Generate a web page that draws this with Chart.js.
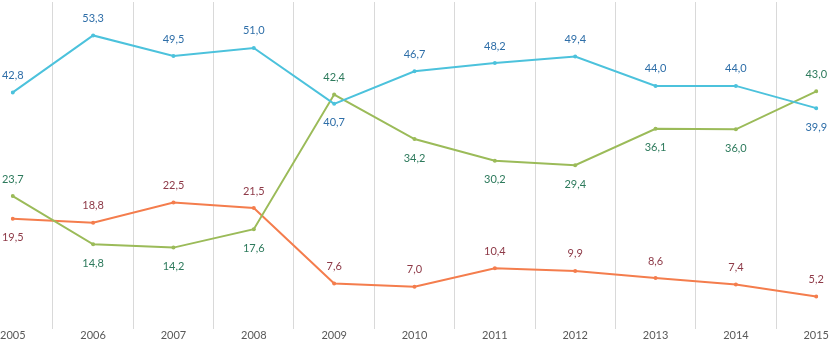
<!DOCTYPE html>
<html>
<head>
<meta charset="utf-8">
<script src="https://cdn.jsdelivr.net/npm/chart.js@4"></script>
<style>
  html, body { margin: 0; padding: 0; background: #fff; }
  #wrap { width: 829px; height: 342px; }
</style>
</head>
<body>
<div id="wrap"><canvas id="lines"></canvas></div>
<script>
// data
const years = ['2005', '2006', '2007', '2008', '2009', '2010', '2011', '2012', '2013', '2014', '2015'];
const blueValues = [42.8, 53.3, 49.5, 51.0, 40.7, 46.7, 48.2, 49.4, 44.0, 44.0, 39.9];
const greenValues = [23.7, 14.8, 14.2, 17.6, 42.4, 34.2, 30.2, 29.4, 36.1, 36.0, 43.0];
const orangeValues = [19.5, 18.8, 22.5, 21.5, 7.6, 7.0, 10.4, 9.9, 8.6, 7.4, 5.2];

// where each value label sits: 'a' above the point, 'b' below
const bluePos = ['a', 'a', 'a', 'a', 'b', 'a', 'a', 'a', 'a', 'a', 'b'];
const greenPos = ['a', 'b', 'b', 'b', 'a', 'b', 'b', 'b', 'b', 'b', 'a'];
const orangePos = ['b', 'a', 'a', 'a', 'a', 'a', 'a', 'a', 'a', 'a', 'a'];

const valueLabels = {
  id: 'valueLabels',
  afterDatasetsDraw(chart) {
    const ctx = chart.ctx;
    ctx.save();
    ctx.font = '11px Lato, sans-serif';
    ctx.textAlign = 'center';
    ctx.textBaseline = 'middle';
    chart.data.datasets.forEach((ds, i) => {
      const meta = chart.getDatasetMeta(i);
      ctx.fillStyle = ds.labelColor;
      meta.data.forEach((pt, j) => {
        const txt = ds.data[j].toFixed(1).replace('.', ',');
        const dy = ds.labelPos[j] === 'a' ? -17 : 19;
        ctx.fillText(txt, pt.x, pt.y + dy);
      });
    });
    ctx.restore();
  }
};

const ctx = document.getElementById('lines').getContext('2d');
new Chart(ctx, {
  type: 'line',
  data: {
    labels: years,
    datasets: [
      {
        data: blueValues,
        borderColor: '#4cc2dc',
        backgroundColor: '#4cc2dc',
        labelColor: '#2e6ea8',
        labelPos: bluePos
      },
      {
        data: greenValues,
        borderColor: '#9bbb59',
        backgroundColor: '#9bbb59',
        labelColor: '#2d7a5c',
        labelPos: greenPos
      },
      {
        data: orangeValues,
        borderColor: '#f47d4d',
        backgroundColor: '#f47d4d',
        labelColor: '#8e3a48',
        labelPos: orangePos
      }
    ]
  },
  options: {
    responsive: true,
    maintainAspectRatio: false,
    animation: false,
    layout: { padding: { left: 0, right: 0, top: 0, bottom: 0 } },
    elements: {
      line: { borderWidth: 2, tension: 0 },
      point: { radius: 2, borderWidth: 0, hoverRadius: 2 }
    },
    plugins: {
      legend: { display: false },
      tooltip: { enabled: false }
    },
    scales: {
      x: {
        offset: false,
        grid: { offset: true, color: '#d9d9d9', drawTicks: false },
        border: { display: false },
        ticks: {
          color: '#595959',
          font: { family: 'Lato, sans-serif', size: 11 },
          padding: 0,
          maxRotation: 0
        }
      },
      y: {
        display: false,
        min: -0.76,
        max: 59.46
      }
    }
  },
  plugins: [valueLabels]
});
</script>
</body>
</html>
